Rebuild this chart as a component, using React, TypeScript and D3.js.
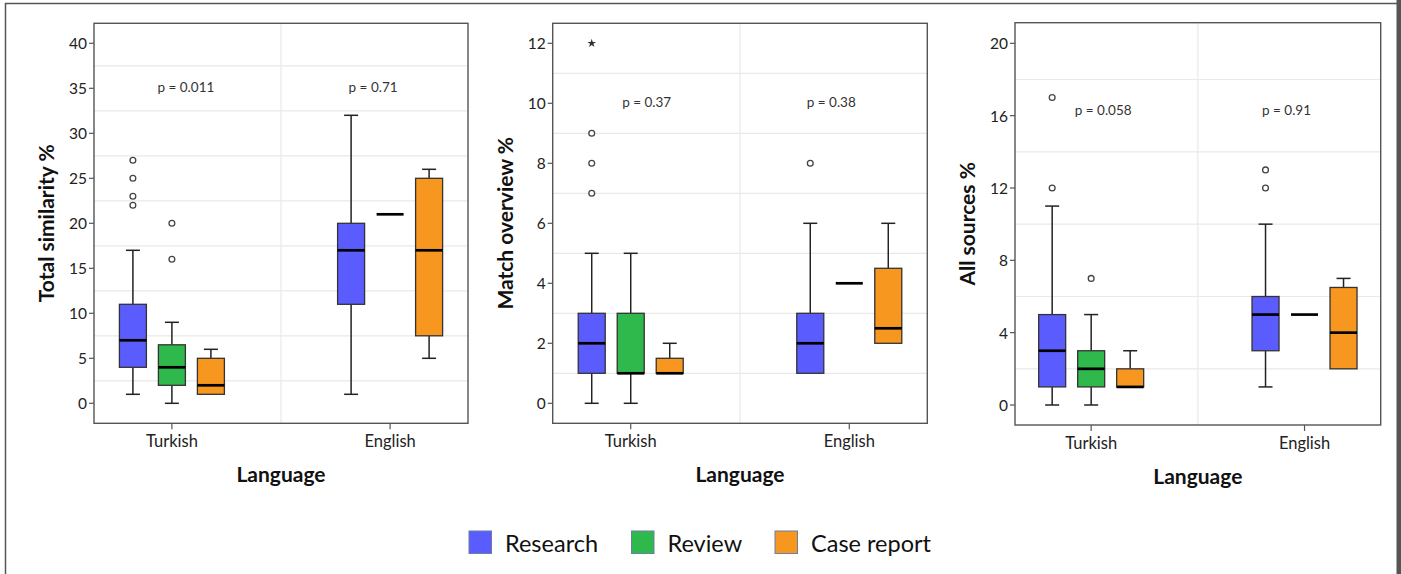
import React from "react";
import * as d3 from "d3";

const categories = ["Turkish", "English"];
const seriesNames = ["Research", "Review", "Case report"];
const seriesColors = ["#5b5cfd", "#2fb84c", "#f7971f"];

type Box = { cat: string; series: string; min: number; q1: number; med: number; q3: number; max: number; outliers: number[]; extremes: number[] };

const totalSimilarity: Box[] = [
  { cat: "Turkish", series: "Research", min: 1, q1: 4, med: 7, q3: 11, max: 17, outliers: [22, 23, 25, 27], extremes: [] },
  { cat: "Turkish", series: "Review", min: 0, q1: 2, med: 4, q3: 6.5, max: 9, outliers: [16, 20], extremes: [] },
  { cat: "Turkish", series: "Case report", min: 1, q1: 1, med: 2, q3: 5, max: 6, outliers: [], extremes: [] },
  { cat: "English", series: "Research", min: 1, q1: 11, med: 17, q3: 20, max: 32, outliers: [], extremes: [] },
  { cat: "English", series: "Review", min: 21, q1: 21, med: 21, q3: 21, max: 21, outliers: [], extremes: [] },
  { cat: "English", series: "Case report", min: 5, q1: 7.5, med: 17, q3: 25, max: 26, outliers: [], extremes: [] },
];

const matchOverview: Box[] = [
  { cat: "Turkish", series: "Research", min: 0, q1: 1, med: 2, q3: 3, max: 5, outliers: [7, 8, 9], extremes: [12] },
  { cat: "Turkish", series: "Review", min: 0, q1: 1, med: 1, q3: 3, max: 5, outliers: [], extremes: [] },
  { cat: "Turkish", series: "Case report", min: 1, q1: 1, med: 1, q3: 1.5, max: 2, outliers: [], extremes: [] },
  { cat: "English", series: "Research", min: 1, q1: 1, med: 2, q3: 3, max: 6, outliers: [8], extremes: [] },
  { cat: "English", series: "Review", min: 4, q1: 4, med: 4, q3: 4, max: 4, outliers: [], extremes: [] },
  { cat: "English", series: "Case report", min: 2, q1: 2, med: 2.5, q3: 4.5, max: 6, outliers: [], extremes: [] },
];

const allSources: Box[] = [
  { cat: "Turkish", series: "Research", min: 0, q1: 1, med: 3, q3: 5, max: 11, outliers: [12, 17], extremes: [] },
  { cat: "Turkish", series: "Review", min: 0, q1: 1, med: 2, q3: 3, max: 5, outliers: [7], extremes: [] },
  { cat: "Turkish", series: "Case report", min: 1, q1: 1, med: 1, q3: 2, max: 3, outliers: [], extremes: [] },
  { cat: "English", series: "Research", min: 1, q1: 3, med: 5, q3: 6, max: 10, outliers: [12, 13], extremes: [] },
  { cat: "English", series: "Review", min: 5, q1: 5, med: 5, q3: 5, max: 5, outliers: [], extremes: [] },
  { cat: "English", series: "Case report", min: 2, q1: 2, med: 4, q3: 6.5, max: 7, outliers: [], extremes: [] },
];

const ticks1 = [0, 5, 10, 15, 20, 25, 30, 35, 40];
const grid1 = [2.5, 7.5, 12.5, 17.5, 22.5, 27.5, 32.5, 37.5];
const ticks2 = [0, 2, 4, 6, 8, 10, 12];
const grid2 = [1, 3, 5, 7, 9, 11];
const ticks3 = [0, 4, 8, 12, 16, 20];
const grid3 = [2, 6, 10, 14, 18];

const pValues1 = ["p = 0.011", "p = 0.71"];
const pValues2 = ["p = 0.37", "p = 0.38"];
const pValues3 = ["p = 0.058", "p = 0.91"];

const FONT = "Lato, 'Open Sans', sans-serif";

type PanelCfg = {
  title: string; data: Box[]; ticks: number[]; grid: number[]; pvals: string[];
  left: number; right: number; top: number; bottom: number; domain: [number, number];
  pY: number; pDx: number[]; titleX: number;
};

const panels: PanelCfg[] = [
  { title: "Total similarity %", data: totalSimilarity, ticks: ticks1, grid: grid1, pvals: pValues1,
    left: 94, right: 468, top: 23.3, bottom: 423.3, domain: [-2.222, 42.222], pY: 89, pDx: [14, -17], titleX: 45 },
  { title: "Match overview %", data: matchOverview, ticks: ticks2, grid: grid2, pvals: pValues2,
    left: 552.7, right: 927.3, top: 23.3, bottom: 423.3, domain: [-0.667, 12.667], pY: 104, pDx: [16, -18], titleX: 504 },
  { title: "All sources %", data: allSources, ticks: ticks3, grid: grid3, pvals: pValues3,
    left: 1015, right: 1380.7, top: 22.7, bottom: 425, domain: [-1.106, 21.14], pY: 112, pDx: [12, -18], titleX: 966 },
];

function Panel({ cfg }: { cfg: PanelCfg }) {
  const x = d3.scalePoint<string>().domain(categories).range([cfg.left, cfg.right]).padding(0.357);
  const y = d3.scaleLinear().domain(cfg.domain).range([cfg.bottom, cfg.top]);
  const off = d3.scalePoint<string>().domain(seriesNames).range([-39, 39]);
  const color = d3.scaleOrdinal<string, string>().domain(seriesNames).range(seriesColors);
  const bw = 27;
  const cap = 14;
  const mid = ((x(categories[0]) as number) + (x(categories[1]) as number)) / 2;
  const star = d3.symbol().type(d3.symbolStar).size(24)();
  return (
    <g>
      {cfg.grid.map((g) => (
        <line key={"g" + g} x1={cfg.left} x2={cfg.right} y1={y(g)} y2={y(g)} stroke="#e9e9e9" strokeWidth={1.2} />
      ))}
      <line x1={mid} x2={mid} y1={cfg.top} y2={cfg.bottom} stroke="#e9e9e9" strokeWidth={1.2} />
      {cfg.pvals.map((p, i) => (
        <text key={p} x={(x(categories[i]) as number) + cfg.pDx[i]} y={cfg.pY} textAnchor="middle" dominantBaseline="middle"
          fontFamily={FONT} fontSize={13.5} fill="#333">{p}</text>
      ))}
      {cfg.data.map((b) => {
        const cx = (x(b.cat) as number) + (off(b.series) as number);
        const single = b.q1 === b.q3 && b.min === b.max;
        return (
          <g key={b.cat + b.series}>
            {!single && (
              <g stroke="#222" strokeWidth={1.5}>
                {b.max > b.q3 && <line x1={cx} x2={cx} y1={y(b.q3)} y2={y(b.max)} />}
                {b.max > b.q3 && <line x1={cx - cap / 2} x2={cx + cap / 2} y1={y(b.max)} y2={y(b.max)} />}
                {b.min < b.q1 && <line x1={cx} x2={cx} y1={y(b.q1)} y2={y(b.min)} />}
                {b.min < b.q1 && <line x1={cx - cap / 2} x2={cx + cap / 2} y1={y(b.min)} y2={y(b.min)} />}
                <rect x={cx - bw / 2} y={y(b.q3)} width={bw} height={y(b.q1) - y(b.q3)} fill={color(b.series)} stroke="#333" strokeWidth={1.3} />
              </g>
            )}
            <line x1={cx - bw / 2} x2={cx + bw / 2} y1={y(b.med)} y2={y(b.med)} stroke="#000" strokeWidth={2.7} />
            {b.outliers.map((o) => (
              <circle key={"o" + o} cx={cx} cy={y(o)} r={2.9} fill="#fff" stroke="#444" strokeWidth={1.3} />
            ))}
            {b.extremes.map((o) => (
              <path key={"e" + o} d={star as string} transform={`translate(${cx},${y(o)})`} fill="#333" />
            ))}
          </g>
        );
      })}
      <rect x={cfg.left} y={cfg.top} width={cfg.right - cfg.left} height={cfg.bottom - cfg.top} fill="none" stroke="#555" strokeWidth={1.4} />
      {cfg.ticks.map((t) => (
        <g key={"t" + t}>
          <line x1={cfg.left - 5} x2={cfg.left} y1={y(t)} y2={y(t)} stroke="#555" strokeWidth={1.2} />
          <text x={cfg.left - 7} y={y(t)} textAnchor="end" dominantBaseline="central" fontFamily={FONT} fontSize={15.5} fill="#222">{t}</text>
        </g>
      ))}
      {categories.map((c) => (
        <g key={c}>
          <line x1={x(c)} x2={x(c)} y1={cfg.bottom} y2={cfg.bottom + 6} stroke="#555" strokeWidth={1.2} />
          <text x={x(c)} y={cfg.bottom + 18} textAnchor="middle" dominantBaseline="central" fontFamily={FONT} fontSize={16.5} fill="#222">{c}</text>
        </g>
      ))}
      <text x={mid} y={cfg.bottom + 50} textAnchor="middle" dominantBaseline="central" fontFamily={FONT} fontWeight="bold" fontSize={21} fill="#111">Language</text>
      <text transform={`translate(${cfg.titleX},${(cfg.top + cfg.bottom) / 2}) rotate(-90)`} textAnchor="middle" dominantBaseline="central"
        fontFamily={FONT} fontWeight="bold" fontSize={21} fill="#111">{cfg.title}</text>
    </g>
  );
}

const legendX = [469, 631.5, 775];

export default function App() {
  return (
    <svg width={1401} height={574} style={{ position: "absolute", left: 0, top: 0, background: "#fff" }}>
      <rect x={0} y={0} width={1401} height={574} fill="#fff" />
      <line x1={5.5} x2={5.5} y1={3} y2={574} stroke="#555" strokeWidth={1.5} />
      <line x1={5} x2={1397} y1={3.5} y2={3.5} stroke="#555" strokeWidth={1.5} />
      <rect x={1396.5} y={0} width={4.5} height={574} fill="#555" />
      {panels.map((p) => (
        <Panel key={p.title} cfg={p} />
      ))}
      {seriesNames.map((s, i) => (
        <g key={s}>
          <rect x={legendX[i]} y={531} width={22.5} height={22.5} fill={seriesColors[i]} stroke="#6a7fa8" strokeWidth={1} />
          <text x={legendX[i] + 36} y={543} dominantBaseline="central" fontFamily={FONT} fontSize={23.5} fill="#111">{s}</text>
        </g>
      ))}
    </svg>
  );
}
